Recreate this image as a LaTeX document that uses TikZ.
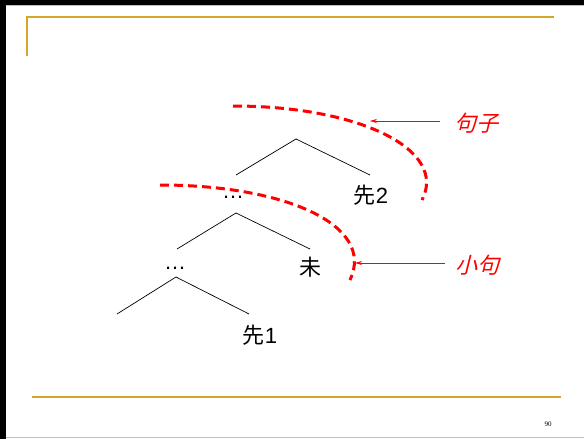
\documentclass[tikz,border=0pt]{standalone}
\usepackage{fontspec}
\setmainfont{Liberation Sans}
\newfontfamily\cjk{Noto Sans CJK SC}
\newfontfamily\cjkit[FakeSlant=0.25]{Noto Sans CJK SC}
\newfontfamily\pagefont{Liberation Serif}
\usetikzlibrary{arrows.meta}
\definecolor{gold}{RGB}{214,166,38}

\begin{document}
\begin{tikzpicture}[x=1pt,y=-1pt,
  every node/.style={inner sep=0pt, font=\fontsize{22}{24}\selectfont},
  branch/.style={black, line width=0.7pt},
  scope line/.style={red, line width=3pt, dash pattern=on 9pt off 5pt},
  pointer/.style={red, line width=0.6pt, -{Stealth[length=7pt,width=4pt]}},
  tag/.style={red, font=\fontsize{22}{24}\selectfont\cjkit}]
\useasboundingbox (0,0) rectangle (584,439);
% slide frame
\fill[black] (0,0) rectangle (584,5);
\fill[black] (0,0) rectangle (6,439);
\draw[gray!50, line width=1pt] (6,5.5) -- (584,5.5);
\draw[gray!50, line width=1pt] (6,437.5) -- (584,437.5);
\draw[gold, line width=1.8pt] (27,56) -- (27,17) -- (554,17);
\draw[gold, line width=1.8pt] (32,397) -- (561,397);
\node[font=\fontsize{7}{8}\selectfont\pagefont] (page) at (548,424) {90};

% tree
\coordinate (s2) at (296,139);
\coordinate (s2l) at (236,175);
\coordinate (s2r) at (370,175);
\node (d1) at (233,197) {\ldots};
\node (x2) at (371,195) {{\cjk 先}2};
\draw[branch] (s2l) -- (s2) -- (s2r);

\coordinate (s1) at (236,213);
\coordinate (s1l) at (177,249);
\coordinate (s1r) at (310,249);
\node (d2) at (175,268) {\ldots};
\node (wei) at (310,267) {\cjk 未};
\draw[branch] (s1l) -- (s1) -- (s1r);

\coordinate (s0) at (176,277);
\coordinate (s0l) at (117,314);
\coordinate (s0r) at (249,314);
\node (x1) at (260,335) {{\cjk 先}1};
\draw[branch] (s0l) -- (s0) -- (s0r);

% scope arcs
\coordinate (a2s) at (233,106);
\coordinate (a2e) at (422,200);
\coordinate (a1s) at (160,185);
\coordinate (a1e) at (350,280);
\draw[scope line] (a2s) .. controls (360,106) and (448,150) .. (a2e);
\draw[scope line] (a1s) .. controls (285,185) and (376,225) .. (a1e);

% labels
\node[tag] (juzi) at (476,123) {句子};
\node[tag] (xiaoju) at (477,265) {小句};
\coordinate (p2) at (370,121);
\coordinate (p1) at (355,263);
\draw[pointer] ([xshift=-14pt,yshift=2pt]juzi.west) -- (p2);
\draw[pointer] ([xshift=-10pt,yshift=2pt]xiaoju.west) -- (p1);
\end{tikzpicture}
\end{document}
